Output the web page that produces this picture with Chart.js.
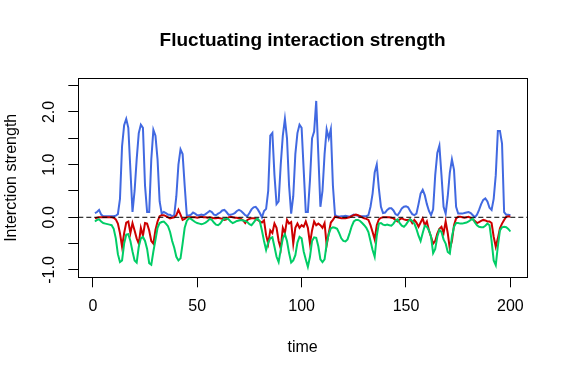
<!DOCTYPE html>
<html>
<head>
<meta charset="utf-8">
<script src="https://cdn.jsdelivr.net/npm/chart.js@4"></script>
<style>
  body { margin: 0; background: #fff; }
</style>
</head>
<body>
<canvas id="chart" width="568" height="376"></canvas>
<script>
// time steps 1..200 (x positions)
const time = Array.from({ length: 200 }, (_, i) => i + 1);

// series
const blueVals = [
  0.08, 0.1, 0.14, 0.05, 0.02, 0.02, 0.02, 0.02, 0.02, 0.02,
  0.03, 0.06, 0.35, 1.35, 1.75, 1.87, 1.7, 0.9, 0.1, 0.5,
  1.1, 1.6, 1.76, 1.7, 0.6, 0.1, 0.1, 1.1, 1.66, 1.55,
  1.1, 0.3, 0.07, 0.1, 0.08, 0.05, 0.05, 0.02, 0.04, 0.4,
  1.0, 1.29, 1.2, 0.6, 0.04, 0.03, 0.05, 0.09, 0.07, 0.04,
  0.04, 0.05, 0.04, 0.06, 0.09, 0.12, 0.1, 0.05, 0.04, 0.07,
  0.09, 0.13, 0.14, 0.1, 0.05, 0.05, 0.06, 0.08, 0.12, 0.14,
  0.12, 0.08, 0.04, 0.02, 0.08, 0.15, 0.19, 0.2, 0.15, 0.08,
  0.0, 0.12, 0.16, 0.5, 1.55, 1.6, 0.8, 0.25, 0.3, 1.0,
  1.55, 1.87, 1.5, 0.6, 0.07, 0.4, 1.2, 1.6, 1.76, 1.7,
  0.9, 0.1, 0.1, 0.7, 1.5, 1.63, 2.21, 1.2, 0.2, 0.5,
  1.2, 1.67, 1.5, 1.67, 0.6, 0.04, 0.02, 0.01, 0.02, 0.02,
  0.03, 0.02, 0.01, 0.03, 0.05, 0.04, 0.03, 0.02, 0.02, 0.02,
  0.02, 0.04, 0.2, 0.45, 0.85, 1.0, 0.55, 0.2, 0.08, 0.09,
  0.14, 0.17, 0.17, 0.13, 0.06, 0.04, 0.1, 0.17, 0.2, 0.21,
  0.19, 0.12, 0.06, 0.04, 0.07, 0.25, 0.45, 0.52, 0.42, 0.25,
  0.12, 0.04, 0.15, 0.8, 1.22, 1.36, 0.8, 0.2, 0.07, 0.4,
  0.85, 1.1, 0.9, 0.2, 0.07, 0.07, 0.07, 0.08, 0.09, 0.1,
  0.08, 0.04, 0.0, 0.05, 0.14, 0.25, 0.33, 0.36, 0.3, 0.18,
  0.14, 0.35, 0.8, 1.64, 1.64, 1.4, 0.1, 0.05, 0.05, 0.04
];

const redVals = [
  -0.02, -0.01, 0, 0, 0, 0, 0, 0, 0, -0.01,
  -0.04, -0.12, -0.3, -0.56, -0.3, -0.1, -0.08, -0.3, -0.11, -0.25,
  -0.4, -0.5, -0.2, -0.35, -0.11, -0.12, -0.25, -0.45, -0.5, -0.24,
  -0.08, 0.02, 0.04, 0.04, 0.02, 0, -0.02, -0.01, 0, 0.04,
  0.14, 0.05, -0.05, -0.03, 0, 0, 0, 0, 0, -0.01,
  0, 0.01, 0, 0, -0.01, 0, -0.01, -0.02, -0.02, -0.01,
  -0.02, -0.03, -0.05, -0.04, 0, 0.01, 0, -0.01, -0.01, -0.02,
  -0.03, -0.06, -0.11, -0.05, -0.03, -0.02, -0.02, -0.03, -0.05, -0.08,
  -0.1, -0.06, -0.34, -0.5, -0.25, -0.3, -0.12, -0.2, -0.45, -0.59,
  -0.2, -0.3, -0.05, -0.12, -0.09, -0.5, -0.2, -0.12, -0.2, -0.15,
  -0.18, -0.08, -0.2, -0.5, -0.25, -0.08, -0.15, -0.12, -0.15, -0.2,
  -0.11, -0.53, -0.3, -0.1, -0.05, 0.01, 0, -0.01, -0.02, -0.02,
  -0.02, -0.01, 0, 0.02, 0.04, 0.05, 0.04, 0.02, 0, -0.02,
  -0.03, -0.05, -0.15, -0.28, -0.42, -0.15, -0.04, -0.01, 0, 0,
  0, 0, -0.01, -0.02, -0.05, -0.08, -0.04, -0.02, -0.04, -0.05,
  -0.05, -0.04, -0.11, -0.05, -0.1, -0.18, -0.1, -0.02, -0.15, -0.08,
  -0.25, -0.37, -0.5, -0.45, -0.31, -0.22, -0.18, -0.3, -0.08, -0.3,
  -0.6, -0.45, -0.15, -0.02, 0.01, 0.01, 0, -0.01, 0, 0.01,
  -0.01, -0.04, -0.07, -0.11, -0.09, -0.07, -0.05, -0.06, -0.08, -0.08,
  -0.11, -0.37, -0.56, -0.4, -0.21, -0.12, -0.05, 0.01, 0.02, 0.01
];

const greenVals = [
  -0.08, -0.05, -0.04, -0.08, -0.11, -0.12, -0.13, -0.14, -0.15, -0.22,
  -0.4, -0.7, -0.85, -0.82, -0.5, -0.33, -0.32, -0.45, -0.65, -0.82,
  -0.86, -0.56, -0.4, -0.37, -0.45, -0.6, -0.87, -0.9, -0.65, -0.43,
  -0.2, -0.11, -0.09, -0.08, -0.12, -0.17, -0.28, -0.45, -0.58, -0.75,
  -0.82, -0.78, -0.5, -0.2, -0.07, -0.02, -0.03, -0.06, -0.09, -0.11,
  -0.12, -0.13, -0.12, -0.1, -0.07, -0.03, -0.05, -0.1, -0.14, -0.15,
  -0.12, -0.06, -0.03, -0.02, -0.04, -0.08, -0.11, -0.09, -0.07, -0.06,
  -0.05, -0.06, -0.07, -0.09, -0.13, -0.15, -0.1, -0.05, -0.03, -0.08,
  -0.25, -0.45, -0.62, -0.48, -0.4, -0.38, -0.56, -0.75, -0.85, -0.62,
  -0.4, -0.32, -0.45, -0.68, -0.86, -0.82, -0.72, -0.48, -0.37, -0.4,
  -0.65, -0.8, -0.94, -0.75, -0.45, -0.38, -0.39, -0.55, -0.8, -0.85,
  -0.8, -0.5, -0.32, -0.21, -0.19, -0.2, -0.22, -0.3, -0.4, -0.45,
  -0.46, -0.42, -0.3, -0.17, -0.08, -0.05, -0.05, -0.07, -0.11, -0.15,
  -0.2, -0.28, -0.45, -0.62, -0.75, -0.35, -0.12, -0.11, -0.14, -0.15,
  -0.14, -0.15, -0.16, -0.12, -0.06, -0.04, -0.11, -0.16, -0.18, -0.14,
  -0.08, -0.04, -0.07, -0.12, -0.22, -0.35, -0.45, -0.3, -0.16, -0.18,
  -0.25, -0.37, -0.68, -0.6, -0.37, -0.24, -0.28, -0.42, -0.5, -0.66,
  -0.69, -0.37, -0.18, -0.11, -0.11, -0.12, -0.12, -0.11, -0.1, -0.08,
  -0.05, -0.03, -0.1, -0.15, -0.18, -0.19, -0.19, -0.16, -0.12, -0.15,
  -0.45, -0.82, -0.91, -0.55, -0.25, -0.19, -0.18, -0.19, -0.22, -0.27
];

const xTicks = [0, 50, 100, 150, 200];
const yTicks = [-1, -0.5, 0, 0.5, 1, 1.5, 2, 2.5];
const xRange = [-6.96, 207.96];
const yRange = [-1.14, 2.64];

const FONT = "'Liberation Sans', Arial, sans-serif";
const toPoints = vals => vals.map((v, i) => ({ x: time[i], y: v }));

// plot box like R's box()
const boxPlugin = {
  id: 'box',
  afterDraw(chart) {
    const { ctx, chartArea: a } = chart;
    ctx.save();
    ctx.strokeStyle = '#000';
    ctx.lineWidth = 1;
    const l = Math.round(a.left) + 0.5, t = Math.round(a.top) + 0.5;
    const r = Math.round(a.right) + 0.5, b = Math.round(a.bottom) + 0.5;
    ctx.strokeRect(l, t, r - l, b - t);
    ctx.restore();
  }
};

new Chart(document.getElementById('chart'), {
  type: 'line',
  data: {
    datasets: [
      {
        label: 'zero',
        data: [{ x: xRange[0], y: 0 }, { x: xRange[1], y: 0 }],
        borderColor: '#000',
        borderWidth: 1,
        borderDash: [5, 3],
        pointRadius: 0,
        order: 0
      },
      {
        label: 'green',
        data: toPoints(greenVals),
        borderColor: '#00CD66',
        borderWidth: 2,
        pointRadius: 0,
        order: 1
      },
      {
        label: 'red',
        data: toPoints(redVals),
        borderColor: '#CD0000',
        borderWidth: 2,
        pointRadius: 0,
        order: 2
      },
      {
        label: 'blue',
        data: toPoints(blueVals),
        borderColor: '#4169E1',
        borderWidth: 2,
        pointRadius: 0,
        order: 3
      }
    ]
  },
  options: {
    responsive: false,
    animation: false,
    devicePixelRatio: 1,
    layout: { padding: { left: 0, right: 41, top: 0, bottom: 0 } },
    plugins: {
      legend: { display: false },
      tooltip: { enabled: false },
      title: {
        display: true,
        fullSize: false,
        text: 'Fluctuating interaction strength',
        color: '#000',
        font: { family: FONT, size: 19, weight: 'bold' },
        padding: { top: 29, bottom: 26.5 }
      }
    },
    scales: {
      x: {
        type: 'linear',
        min: xRange[0],
        max: xRange[1],
        afterBuildTicks: s => { s.ticks = xTicks.map(v => ({ value: v })); },
        afterFit: s => { s.height = 98.7; },
        grid: { display: true, drawOnChartArea: false, drawTicks: true, tickLength: 10, color: '#000' },
        border: { display: false },
        ticks: {
          color: '#000',
          font: { family: FONT, size: 16 },
          padding: 10,
          autoSkip: false,
          maxRotation: 0,
          callback: v => String(v)
        },
        title: {
          display: true,
          text: 'time',
          color: '#000',
          font: { family: FONT, size: 16 },
          padding: { top: 0, bottom: 19 }
        }
      },
      y: {
        type: 'linear',
        min: yRange[0],
        max: yRange[1],
        afterBuildTicks: s => { s.ticks = yTicks.map(v => ({ value: v })); },
        afterFit: s => { s.width = 78.3; },
        grid: { display: true, drawOnChartArea: false, drawTicks: true, tickLength: 10, color: '#000' },
        border: { display: false },
        ticks: {
          color: '#000',
          font: { family: FONT, size: 16 },
          padding: 5,
          autoSkip: false,
          minRotation: 90,
          maxRotation: 90,
          crossAlign: 'center',
          callback: v => (Number.isInteger(v) ? v.toFixed(1) : '')
        },
        title: {
          display: true,
          text: 'Interction strength',
          color: '#000',
          font: { family: FONT, size: 16 },
          padding: { top: 2, bottom: 0 }
        }
      }
    }
  },
  plugins: [boxPlugin]
});
</script>
</body>
</html>
